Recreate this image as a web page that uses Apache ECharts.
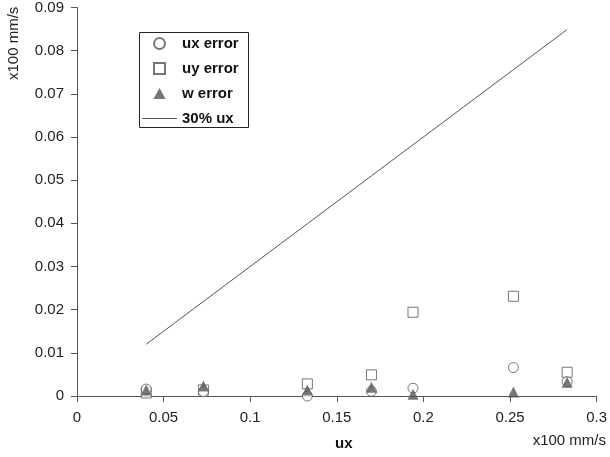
<!DOCTYPE html>
<html>
<head>
<meta charset="utf-8">
<script src="https://cdn.jsdelivr.net/npm/echarts@6/dist/echarts.min.js"></script>
<style>html,body{margin:0;padding:0;background:#fff}#c{width:610px;height:457px}</style>
</head>
<body>
<div id="c"></div>
<script>
var uxValues = [0.040, 0.073, 0.133, 0.170, 0.194, 0.252, 0.283];
var uxError  = [0.0016, 0.0010, 0.0000, 0.0011, 0.0018, 0.0066, 0.0033];
var uyError  = [0.0007, 0.0014, 0.0028, 0.0049, 0.0194, 0.0231, 0.0055];
var wError   = [0.0014, 0.0023, 0.0014, 0.0020, 0.0004, 0.0009, 0.0032];
var line30   = [0.0120, 0.0219, 0.0399, 0.0510, 0.0582, 0.0756, 0.0849];
var seriesNames = ['ux error', 'uy error', 'w error', '30% ux'];

function pairs(xs, ys) { return xs.map(function (x, i) { return [x, ys[i]]; }); }

var FONT = 'Liberation Sans, Arial, sans-serif';
var GRAY = '#555555';
var chart = echarts.init(document.getElementById('c'), null, {renderer: 'canvas'});
chart.setOption({
  animation: false,
  backgroundColor: '#ffffff',
  grid: {left: 77, right: 10, top: 7, bottom: 61, containLabel: false},
  xAxis: {
    type: 'value', min: 0, max: 0.3, interval: 0.05,
    axisLine: {show: true, lineStyle: {color: GRAY, width: 1}},
    axisTick: {show: true, length: 6, lineStyle: {color: GRAY}},
    splitLine: {show: false},
    axisLabel: {color: '#222', fontSize: 15, fontFamily: FONT, margin: 14}
  },
  yAxis: {
    type: 'value', min: 0, max: 0.09, interval: 0.01,
    axisLine: {show: true, lineStyle: {color: GRAY, width: 1}},
    axisTick: {show: true, length: 6, lineStyle: {color: GRAY}},
    splitLine: {show: false},
    axisLabel: {color: '#222', fontSize: 15, fontFamily: FONT, margin: 13}
  },
  legend: {
    orient: 'vertical', left: 142, top: 36,
    data: [
      {name: seriesNames[0], icon: 'circle'},
      {name: seriesNames[1], icon: 'path://M0,0L10,0L10,10L0,10Z'},
      {name: seriesNames[2], icon: 'path://M5,0L10,9L0,9Z'},
      {name: seriesNames[3], icon: 'path://M0,0L35,0L35,1L0,1Z'}
    ],
    symbolKeepAspect: true,
    itemWidth: 35, itemHeight: 11, itemGap: 10,
    padding: 0,
    borderWidth: 0,
    textStyle: {fontSize: 15, fontWeight: 'bold', fontFamily: FONT, color: '#111'}
  },
  graphic: [
    {type: 'rect', left: 137, top: 30, shape: {width: 109, height: 95},
     style: {fill: 'none', stroke: '#222', lineWidth: 1}, z: 10},
    {type: 'text', left: 335, top: 436, style: {text: 'ux', font: 'bold 15px ' + FONT, fill: '#111'}},
    {type: 'text', right: 4, top: 433, style: {text: 'x100 mm/s', font: '15px ' + FONT, fill: '#222'}},
    {type: 'text', x: 6, y: 80, rotation: Math.PI / 2, style: {text: 'x100 mm/s', font: '15px ' + FONT, fill: '#222'}}
  ],
  series: [
    {name: seriesNames[0], type: 'scatter', data: pairs(uxValues, uxError), symbol: 'circle', symbolSize: 10,
     itemStyle: {color: '#fff', borderColor: GRAY, borderWidth: 1}, z: 3},
    {name: seriesNames[1], type: 'scatter', data: pairs(uxValues, uyError), symbol: 'rect', symbolSize: 10,
     itemStyle: {color: '#fff', borderColor: GRAY, borderWidth: 1}, z: 2},
    {name: seriesNames[2], type: 'scatter', data: pairs(uxValues, wError), symbol: 'triangle', symbolSize: 11,
     itemStyle: {color: GRAY, borderColor: GRAY, borderWidth: 0}, z: 4},
    {name: seriesNames[3], type: 'line', data: pairs(uxValues, line30), symbol: 'none', showSymbol: false,
     lineStyle: {color: GRAY, width: 1}, itemStyle: {color: GRAY}, z: 1}
  ]
});
</script>
</body>
</html>
